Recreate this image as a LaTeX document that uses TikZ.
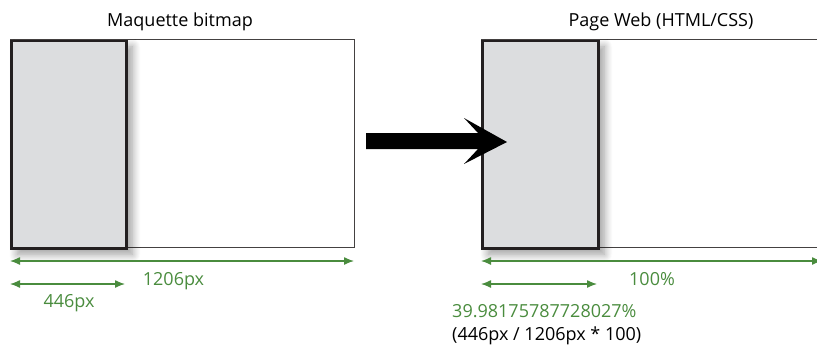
\documentclass[tikz,border=0pt]{standalone}
\usepackage{fontspec}
\setmainfont{Open Sans}
\usetikzlibrary{arrows.meta,shadows.blur}
\definecolor{dimgreen}{RGB}{74,140,62}
\definecolor{panelgray}{RGB}{220,221,223}
\definecolor{edgedark}{RGB}{35,31,32}
\begin{document}
\begin{tikzpicture}[x=1pt,y=-1pt,
  outerbox/.style={draw=edgedark!85,line width=1pt},
  innerbox/.style={draw=edgedark,line width=2.6pt,fill=panelgray,
    blur shadow={shadow xshift=6pt,shadow yshift=-6pt,shadow blur steps=16,shadow blur radius=8pt,shadow opacity=40}},
  dim/.style={draw=dimgreen,line width=1.3pt,{Latex[length=10pt,width=8pt]}-{Latex[length=10pt,width=8pt]}},
  dimlabel/.style={text=dimgreen,font=\fontsize{18}{20}\selectfont,inner sep=0pt,anchor=base},
  title/.style={font=\fontsize{18}{20}\selectfont,inner sep=0pt,anchor=base}]
\useasboundingbox (0,0) rectangle (817,346);
% left
\draw[outerbox] (10,39.5) rectangle (354,247);
\node[innerbox,minimum width=115pt,minimum height=207.5pt,anchor=north west,inner sep=0pt] (lp) at (10,39.5) {};
\node[title] (lt) at (180,26) {Maquette bitmap};
\coordinate (l1a) at (10,261); \coordinate (l1b) at (354,261);
\draw[dim] (l1a) -- (l1b);
\node[dimlabel] (l1) at (173.5,285) {1206px};
\coordinate (l2a) at (10,284); \coordinate (l2b) at (125,284);
\draw[dim] (l2a) -- (l2b);
\node[dimlabel] (l2) at (69,307) {446px};
% right
\draw[outerbox] (830,39.5) -- (481,39.5) -- (481,247) -- (830,247);
\node[innerbox,minimum width=116pt,minimum height=207.5pt,anchor=north west,inner sep=0pt] (rp) at (481,39.5) {};
\node[title] (rt) at (661,26) {Page Web (HTML/CSS)};
\coordinate (r1a) at (481,261); \coordinate (r1b) at (822,261);
\draw[dim] (r1a) -- (r1b);
\node[dimlabel] (r1) at (652,285) {100\%};
\coordinate (r2a) at (481,284); \coordinate (r2b) at (597,284);
\draw[dim] (r2a) -- (r2b);
\node[dimlabel,anchor=base west] (r2) at (452,317) {39.98175787728027\%};
\node[title,anchor=base west] (r3) at (452,340) {(446px / 1206px * 100)};
% big arrow (on top)
\fill[black] (366,133) -- (478,133) -- (464,118) -- (507,142) -- (464,164) -- (478,149) -- (366,149) -- cycle;
\end{tikzpicture}
\end{document}
